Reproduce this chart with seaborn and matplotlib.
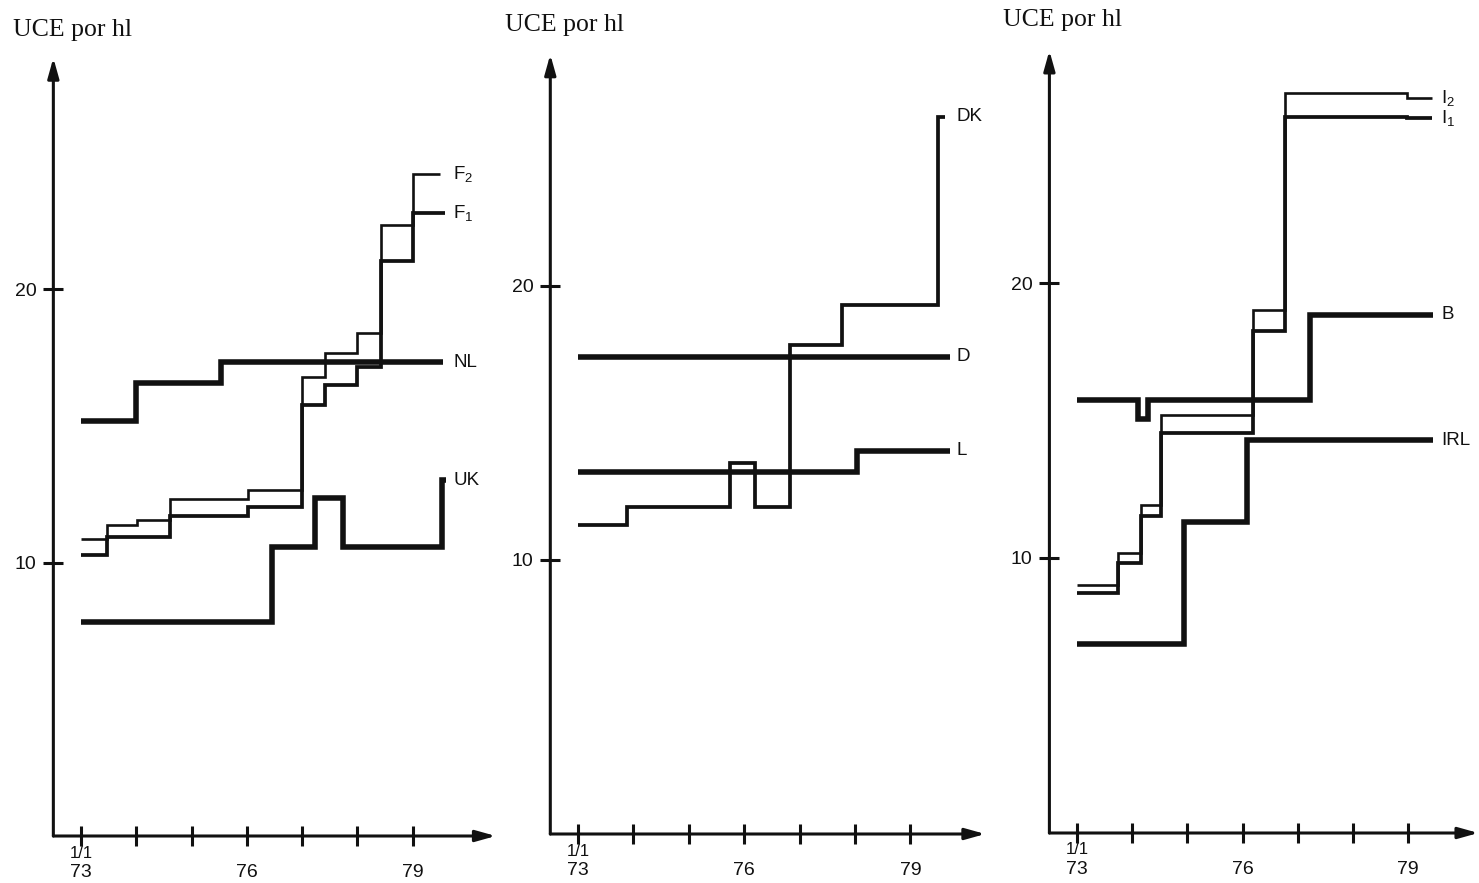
import matplotlib
matplotlib.use("Agg")
import matplotlib.pyplot as plt
import seaborn as sns
import pandas as pd

# ---- data: UCE per hectolitre, step changes by date (decimal years) ----
# Panel 1
f2_x = [73.0, 73.47, 74.01, 74.61, 76.02, 77.0, 77.41, 78.0, 78.42, 79.0, 79.5]
f2_y = [10.86, 11.37, 11.55, 12.32, 12.65, 16.78, 17.66, 18.39, 22.34, 24.2, 24.2]
f1_x = [73.0, 73.47, 74.61, 76.02, 77.0, 77.41, 78.0, 78.42, 79.0, 79.58]
f1_y = [10.27, 10.93, 11.70, 12.03, 15.76, 16.49, 17.15, 21.02, 22.78, 22.78]
nl_x = [73.0, 74.0, 75.53, 79.55]
nl_y = [15.17, 16.56, 17.33, 17.33]
uk_x = [73.0, 76.45, 77.23, 77.74, 79.53, 79.6]
uk_y = [7.82, 10.57, 12.36, 10.57, 13.0, 13.0]

# Panel 2
dk_x = [73.0, 73.88, 75.74, 76.2, 76.83, 77.77, 79.5, 79.62]
dk_y = [11.28, 11.93, 13.54, 11.93, 17.85, 19.31, 26.17, 26.17]
d_x = [73.0, 79.71]
d_y = [17.41, 17.41]
l_x = [73.0, 78.04, 79.71]
l_y = [13.21, 13.98, 13.98]

# Panel 3
i2_x = [73.0, 73.74, 74.16, 74.52, 76.19, 76.77, 78.98, 79.43]
i2_y = [9.02, 10.18, 11.93, 15.2, 19.02, 26.9, 26.73, 26.73]
i1_x = [73.0, 73.74, 74.16, 74.52, 76.19, 76.77, 78.98, 79.43]
i1_y = [8.73, 9.82, 11.53, 14.55, 18.25, 26.04, 26.0, 26.0]
b_x = [73.0, 74.1, 74.29, 77.22, 79.45]
b_y = [15.75, 15.05, 15.75, 18.84, 18.84]
irl_x = [73.0, 74.94, 76.08, 79.45]
irl_y = [6.87, 11.31, 14.29, 14.29]

years = [73, 74, 75, 76, 77, 78, 79]
year_labels = ["73", "", "", "76", "", "", "79"]
y_ticks = [10, 20]
y_title = "UCE por hl"

sns.set_theme(style="white")
plt.rcParams["font.family"] = ["Liberation Sans", "DejaVu Sans"]
plt.rcParams["mathtext.fontset"] = "custom"
plt.rcParams["mathtext.rm"] = "Liberation Sans"
plt.rcParams["mathtext.it"] = "Liberation Sans"

W, H = 1479, 883
fig = plt.figure(figsize=(W / 100, H / 100), dpi=100)
fig.patch.set_facecolor("white")

INK = "#111111"
THICK, MED, THIN = 4.0, 2.7, 1.9

panels = [
    dict(x0=81, y0=836, sx=55.3, sy=27.35, xmax=80.6, xarrow=80.5, title_xy=(13, 30),
         series=[(f2_x, f2_y, THIN, r"F$_2$"), (f1_x, f1_y, MED, r"F$_1$"),
                 (nl_x, nl_y, THICK, "NL"), (uk_x, uk_y, THICK, "UK")],
         label_x=79.73),
    dict(x0=578, y0=834, sx=55.4, sy=27.4, xmax=80.6, xarrow=80.35, title_xy=(505, 25),
         series=[(dk_x, dk_y, MED, "DK"), (d_x, d_y, THICK, "D"), (l_x, l_y, THICK, "L")],
         label_x=79.84),
    dict(x0=1077, y0=833, sx=55.2, sy=27.5, xmax=80.28, xarrow=80.27, title_xy=(1003, 20),
         series=[(i2_x, i2_y, THIN, r"I$_2$"), (i1_x, i1_y, MED, r"I$_1$"),
                 (b_x, b_y, THICK, "B"), (irl_x, irl_y, THICK, "IRL")],
         label_x=79.6),
]

YMAX = 28.7
for p in panels:
    left_px = p["x0"] - 0.5 * p["sx"]
    right_px = p["x0"] + (p["xmax"] - 73) * p["sx"]
    top_px = p["y0"] - YMAX * p["sy"]
    ax = fig.add_axes([left_px / W, 1 - p["y0"] / H,
                       (right_px - left_px) / W, (p["y0"] - top_px) / H])
    ax.set_facecolor("none")
    ax.set_xlim(72.5, p["xmax"])
    ax.set_ylim(0, YMAX)
    for s in ax.spines.values():
        s.set_visible(False)

    for xs, ys, lw, name in p["series"]:
        df = pd.DataFrame({"t": xs, "v": ys})
        sns.lineplot(data=df, x="t", y="v", ax=ax, color=INK, lw=lw,
                     drawstyle="steps-post", estimator=None, sort=False,
                     solid_capstyle="butt", solid_joinstyle="miter")
        ax.text(p["label_x"], ys[-1], name, fontsize=13.5, color=INK,
                ha="left", va="center")

    # axis arrows
    arrow = dict(arrowstyle="-|>,head_length=1.0,head_width=0.28", lw=2.2,
                 color=INK, shrinkA=0, shrinkB=0)
    ax.annotate("", xy=(72.5, 28.45), xytext=(72.5, 0), arrowprops=arrow,
                annotation_clip=False)
    ax.annotate("", xy=(p["xarrow"], 0), xytext=(72.5, 0), arrowprops=arrow,
                annotation_clip=False)

    ax.set_xticks(years)
    ax.set_xticklabels(year_labels)
    ax.set_yticks(y_ticks)
    ax.set_yticklabels([str(v) for v in y_ticks])
    ax.tick_params(axis="both", direction="inout", length=14, width=2.2,
                   color=INK, labelcolor=INK, labelsize=14,
                   bottom=True, left=True, top=False, right=False)
    ax.tick_params(axis="x", pad=13)
    ax.tick_params(axis="y", pad=5)
    ax.set_xlabel("")
    ax.set_ylabel("")
    ax.annotate("1/1", xy=(73, 0), xytext=(0, -17), textcoords="offset pixels",
                ha="center", va="center", fontsize=12, color=INK,
                annotation_clip=False)

    tx, ty = p["title_xy"]
    fig.text(tx / W, 1 - ty / H, y_title, fontsize=18.5, color=INK, weight="normal",
             family=["Liberation Serif", "DejaVu Serif"], ha="left", va="center")

fig.savefig("out.png", dpi=100, facecolor="white")
